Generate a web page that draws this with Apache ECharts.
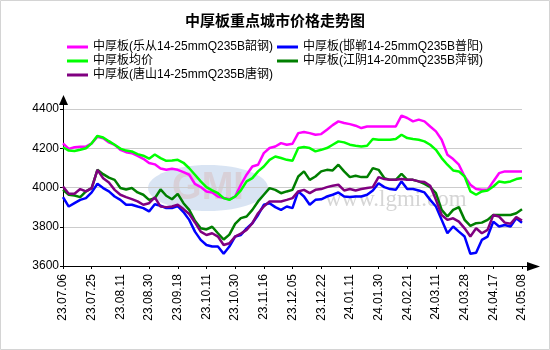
<!DOCTYPE html>
<html>
<head>
<meta charset="utf-8">
<script src="https://cdn.jsdelivr.net/npm/echarts@6/dist/echarts.min.js"></script>
<style>
html,body{margin:0;padding:0;background:#fff;}
#c{width:550px;height:350px;}
</style>
</head>
<body>
<div id="c"></div>
<script>
// ---- data ----
const dates = [
'23.07.06','23.07.10','23.07.13','23.07.18','23.07.21',
'23.07.25','23.07.28','23.08.02','23.08.04','23.08.09',
'23.08.11','23.08.16','23.08.18','23.08.23','23.08.25',
'23.08.30','23.09.04','23.09.06','23.09.11','23.09.13',
'23.09.18','23.09.21','23.09.26','23.10.07','23.10.09',
'23.10.11','23.10.16','23.10.19','23.10.24','23.10.26',
'23.10.30','23.11.02','23.11.07','23.11.09','23.11.14',
'23.11.16','23.11.21','23.11.23','23.11.28','23.11.30',
'23.12.05','23.12.08','23.12.12','23.12.14','23.12.19',
'23.12.22','23.12.27','23.12.29','24.01.04','24.01.08',
'24.01.11','24.01.16','24.01.18','24.01.23','24.01.25',
'24.01.30','24.02.02','24.02.06','24.02.08','24.02.19',
'24.02.21','24.02.26','24.02.28','24.03.04','24.03.06',
'24.03.11','24.03.14','24.03.18','24.03.20','24.03.25',
'24.03.28','24.04.02','24.04.08','24.04.10','24.04.15',
'24.04.17','24.04.22','24.04.24','24.04.29','24.05.06',
'24.05.08'];

const leCong = [
4225,4197,4205,4208,4208, 4225,4259,4251,4230,4217,
4192,4180,4175,4161,4146, 4125,4118,4097,4090,4095,
4090,4078,4065,4018,4002, 3980,3975,3954,3946,3940,
3954,4014,4065,4107,4116, 4175,4201,4209,4226,4218,
4223,4277,4283,4277,4269, 4272,4294,4318,4337,4329,
4323,4315,4303,4311,4311, 4311,4311,4311,4311,4366,
4354,4337,4346,4337,4311, 4286,4243,4167,4145,4116,
4056,4014,3992,3988,3988, 4031,4073,4082,4082,4082,
4082];

const hanDan = [
3951,3903,3920,3937,3946, 3975,4019,3997,3980,3954,
3937,3912,3912,3903,3895, 3878,3915,3907,3895,3895,
3905,3875,3835,3775,3733, 3707,3699,3699,3662,3699,
3750,3758,3792,3818,3860, 3912,3920,3900,3886,3903,
3895,3980,3954,3912,3937, 3940,3954,3963,3975,3954,
3951,3954,3954,3963,3985, 4022,4002,3992,3988,4031,
3992,3992,3985,3975,3937, 3903,3835,3767,3801,3775,
3750,3662,3668,3733,3750, 3826,3801,3809,3801,3843,
3821];

const junJia = [
4205,4188,4186,4192,4200, 4225,4263,4255,4236,4218,
4198,4188,4184,4170,4162, 4147,4168,4150,4136,4138,
4141,4126,4098,4065,4031, 4002,3985,3971,3946,3937,
3954,3985,4031,4048,4082, 4107,4141,4158,4150,4141,
4136,4201,4206,4201,4184, 4192,4201,4218,4235,4230,
4218,4213,4209,4213,4247, 4243,4243,4243,4247,4269,
4252,4247,4243,4235,4218, 4192,4150,4116,4087,4082,
4056,3980,3963,3980,3985, 4005,4031,4026,4031,4043,
4048];

const jiangYin = [
3988,3963,3959,3951,3980, 3997,4090,4068,4050,4039,
3997,3990,3997,3975,3963, 3937,3945,3990,3958,3940,
3968,3920,3886,3830,3792, 3786,3800,3767,3735,3760,
3815,3844,3852,3886,3929, 3963,3997,3988,3971,3980,
3988,4056,4082,4039,4056, 4082,4090,4087,4116,4082,
4053,4060,4053,4053,4099, 4090,4048,4039,4039,4070,
4039,4039,4031,4018,4002, 3971,3886,3852,3886,3900,
3835,3804,3818,3821,3835, 3860,3860,3860,3860,3869,
3889];

const tangShan = [
4005,3968,3968,3992,3980, 3997,4090,4047,4025,3988,
3963,3951,3941,3929,3912, 3920,3950,3903,3900,3903,
3912,3890,3865,3822,3775, 3758,3767,3750,3707,3716,
3750,3765,3784,3818,3869, 3903,3929,3929,3929,3937,
3946,3980,3988,3971,3988, 3992,4002,4009,4014,3985,
3992,3985,3992,3997,4002, 4053,4043,4039,4039,4043,
4039,4039,4031,4028,4009, 3937,3860,3835,3843,3826,
3792,3750,3792,3767,3784, 3860,3852,3821,3815,3849,
3832];

const seriesNames = [
'中厚板(乐从14-25mmQ235B韶钢)',
'中厚板(邯郸14-25mmQ235B普阳)',
'中厚板均价',
'中厚板(江阴14-20mmQ235B萍钢)',
'中厚板(唐山14-25mmQ235B唐钢)'
];
const seriesData = [leCong, hanDan, junJia, jiangYin, tangShan];
const seriesColors = ['#ff00ff', '#0000ff', '#00ff00', '#007f00', '#800080'];
const yMin = 3600, yMax = 4400, yStep = 200;
const title = '中厚板重点城市价格走势图';

// ---- layout ----
const FONT = '"Liberation Sans", "Noto Sans CJK SC", sans-serif';
const GL = 63, GR = 522, GT = 109, GB = 266;

const chart = echarts.init(document.getElementById('c'), null, {renderer: 'canvas'});

const legendBase = {
  orient: 'vertical', top: 40, padding: 0, itemGap: 0,
  itemWidth: 21, itemHeight: 3, icon: 'rect',
  textStyle: {fontSize: 12, lineHeight: 14, color: '#000', fontFamily: FONT}
};

chart.setOption({
  animation: false,
  backgroundColor: '#fff',
  title: {
    text: title, left: 'center', top: 9,
    textStyle: {fontSize: 15, fontWeight: 'bold', color: '#000', fontFamily: FONT}
  },
  legend: [
    Object.assign({}, legendBase, {left: 67, data: [seriesNames[0], seriesNames[2], seriesNames[4]]}),
    Object.assign({}, legendBase, {left: 277, data: [seriesNames[1], seriesNames[3]]})
  ],
  grid: {left: GL, right: 550 - GR, top: GT, bottom: 350 - GB, containLabel: false},
  xAxis: {
    type: 'category', data: dates, boundaryGap: false,
    axisLine: {show: true, lineStyle: {color: '#000', width: 1}},
    axisTick: {show: true, interval: 4, length: 3, lineStyle: {color: '#000'}},
    axisLabel: {interval: 4, rotate: 90, margin: 8, fontSize: 12, color: '#000', fontFamily: FONT},
    splitLine: {show: false}
  },
  yAxis: {
    type: 'value', min: yMin, max: yMax, interval: yStep,
    axisLine: {show: true, lineStyle: {color: '#000', width: 1}},
    axisTick: {show: true, length: 3, lineStyle: {color: '#000'}},
    axisLabel: {margin: 4, fontSize: 12, color: '#000', fontFamily: FONT,
      formatter: v => String(v)},
    splitLine: {show: true, lineStyle: {color: '#cccccc', width: 1}}
  },
  graphic: [
    // frame
    {type: 'rect', z: 0, silent: true, shape: {x: 0.5, y: 0.5, width: 549, height: 349},
      style: {fill: 'none', stroke: '#d4d4d4', lineWidth: 1}},
    // watermark
    {type: 'ellipse', z: 0, silent: true, shape: {cx: 208, cy: 188, rx: 60, ry: 23},
      style: {fill: 'rgba(170,195,228,0.45)'}},
    {type: 'text', z: 0, silent: true, x: 208, y: 189,
      style: {text: 'GMI', fill: 'rgba(215,205,210,0.85)', font: 'bold 38px "Liberation Sans"',
        textAlign: 'center', textVerticalAlign: 'middle'}},
    {type: 'text', z: 0, silent: true, x: 325, y: 200,
      style: {text: 'www.lgmi.com', fill: 'rgba(185,185,185,0.6)', font: '23px "Liberation Serif"',
        textAlign: 'left', textVerticalAlign: 'middle'}},
    // axis arrow extensions
    {type: 'line', z: 10, silent: true, shape: {x1: GL + 0.5, y1: GT, x2: GL + 0.5, y2: GT - 6},
      style: {stroke: '#000', lineWidth: 1}},
    {type: 'polygon', z: 10, silent: true, shape: {points: [[GL + 0.5, 95], [GL - 4, 105], [GL + 5, 105]]},
      style: {fill: '#000'}},
    {type: 'line', z: 10, silent: true, shape: {x1: GR, y1: GB + 0.5, x2: GR + 6, y2: GB + 0.5},
      style: {stroke: '#000', lineWidth: 1}},
    {type: 'polygon', z: 10, silent: true, shape: {points: [[540, GB + 0.5], [527, GB - 4], [527, GB + 5]]},
      style: {fill: '#000'}}
  ],
  series: seriesNames.map((name, i) => ({
    name: name, type: 'line', data: seriesData[i],
    showSymbol: false, symbol: 'none',
    lineStyle: {color: seriesColors[i], width: 2.5},
    itemStyle: {color: seriesColors[i]},
    z: 3 + i
  }))
});
</script>
</body>
</html>
